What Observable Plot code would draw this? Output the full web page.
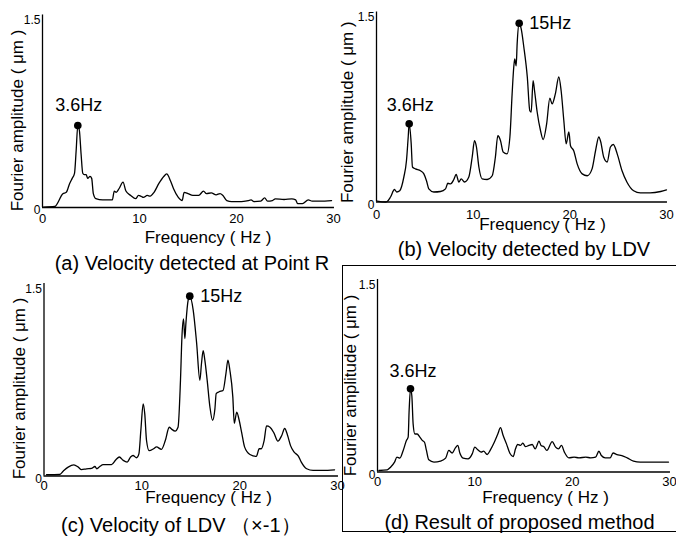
<!DOCTYPE html>
<html>
<head>
<meta charset="utf-8">
<script src="https://cdn.jsdelivr.net/npm/d3@7"></script>
<script src="https://cdn.jsdelivr.net/npm/@observablehq/plot@0.6"></script>
<style>
  html, body { margin: 0; padding: 0; background: #fff; }
  #wrap { position: relative; width: 676px; height: 539px; overflow: hidden; background: #fff; }
  #wrap svg { position: absolute; left: 0; top: 0; }
  #boxd { position: absolute; left: 342px; top: 265px; width: 345px; height: 267px;
          border: 1.3px solid #000; border-right: none; box-sizing: border-box; }
</style>
</head>
<body>
<div id="wrap"><div id="boxd"></div></div>
<script>
// ---------- data ----------
const xTicks = [0, 10, 20, 30];
const yTicks = [0, 1.5];
const yLabel = "Fourier amplitude ( μm )";
const xLabel = "Frequency ( Hz )";

// (a) Velocity detected at Point R
const aHz  = [0.1,1.26,2.1,2.45,2.8,3.06,3.3,3.47,3.64,3.8,3.98,4.15,4.3,4.5,4.66,4.9,5.07,5.24,5.5,6.2,7.2,7.4,7.6,7.9,8.3,8.6,9.1,9.6,9.9,10.2,10.4,10.8,11.1,11.5,12.0,12.5,12.8,13.2,13.5,14.0,14.4,14.6,15.0,15.5,16.1,16.6,16.9,17.4,17.9,18.3,18.6,19.0,19.5,20.5,21.2,21.5,21.8,22.5,22.9,23.2,23.7,24.0,24.9,25.7,26.1,26.3,26.8,27.4,27.8,28.6,29.8];
const aAmp = [0.003,0.008,0.108,0.12,0.19,0.23,0.27,0.45,0.647,0.61,0.42,0.27,0.26,0.26,0.23,0.245,0.23,0.11,0.07,0.06,0.06,0.13,0.12,0.15,0.2,0.13,0.095,0.07,0.095,0.087,0.08,0.095,0.09,0.12,0.19,0.245,0.265,0.21,0.15,0.08,0.055,0.12,0.11,0.095,0.095,0.13,0.11,0.115,0.10,0.11,0.095,0.055,0.047,0.047,0.055,0.06,0.047,0.05,0.076,0.05,0.055,0.068,0.063,0.068,0.06,0.03,0.03,0.06,0.05,0.05,0.055];
const aPeakHz = [3.64];
const aPeakAmp = [0.647];
const aPeakLabel = ["3.6Hz"];
const aCaption = "(a) Velocity detected at Point R";

// (b) Velocity detected by LDV
const bHz  = [0.07,0.93,1.1,1.45,1.86,2.1,2.4,2.83,3.1,3.28,3.38,3.59,3.72,4.03,4.55,4.9,5.17,5.41,5.93,6.62,7.14,7.38,7.66,8.0,8.24,8.52,8.76,9.1,9.55,9.9,10.14,10.34,10.59,10.93,11.45,11.97,12.3,12.55,12.83,13.1,13.5,13.8,14.03,14.2,14.3,14.45,14.55,14.76,14.97,15.24,15.6,15.86,16.0,16.2,16.35,16.62,16.97,17.24,17.6,17.93,18.17,18.5,18.86,19.1,19.38,19.62,19.9,20.07,20.4,20.76,21.28,21.8,22.3,22.66,23.0,23.2,23.5,23.86,24.2,24.5,24.9,25.4,25.9,26.6,27.3,28.3,29.4,30.0];
const bAmp = [0.007,0.0,0.004,0.04,0.1,0.08,0.09,0.2,0.33,0.52,0.626,0.465,0.28,0.265,0.25,0.225,0.17,0.105,0.08,0.084,0.105,0.15,0.145,0.18,0.22,0.16,0.185,0.16,0.2,0.36,0.49,0.44,0.28,0.185,0.18,0.21,0.36,0.53,0.49,0.4,0.385,0.52,0.865,1.08,1.145,1.09,1.265,1.43,1.385,1.24,1.0,0.73,0.72,0.97,0.89,0.72,0.57,0.5,0.625,0.83,0.785,0.865,1.0,0.89,0.65,0.465,0.56,0.45,0.41,0.305,0.225,0.21,0.265,0.41,0.52,0.48,0.36,0.32,0.44,0.46,0.385,0.25,0.16,0.09,0.073,0.073,0.084,0.097];
const bPeakHz = [3.38, 14.76];
const bPeakAmp = [0.626, 1.43];
const bPeakLabel = ["3.6Hz", "15Hz"];
const bCaption = "(b) Velocity detected by LDV";

// (c) Velocity of LDV (x-1)
const cHz  = [0.26,1.6,1.96,2.47,3.05,3.5,3.83,4.35,4.86,5.2,5.4,5.7,6.05,6.9,7.35,7.7,8.1,8.5,8.85,9.1,9.46,9.7,9.9,10.14,10.3,10.48,10.75,11.2,11.5,12.0,12.4,12.8,13.04,13.4,13.7,13.95,14.1,14.26,14.4,14.5,14.74,14.9,15.25,15.6,15.93,16.1,16.27,16.44,16.68,16.96,17.23,17.47,17.6,17.9,18.3,18.6,18.8,19.0,19.3,19.45,19.7,19.95,20.2,20.5,21.05,21.7,22.0,22.2,22.5,22.75,23.1,23.5,23.9,24.3,24.6,24.9,25.2,25.55,26.0,26.3,26.85,27.5,28.5,29.7];
const cAmp = [0.01,0.012,0.038,0.07,0.088,0.07,0.05,0.057,0.06,0.075,0.057,0.075,0.09,0.09,0.128,0.15,0.123,0.11,0.15,0.162,0.144,0.175,0.36,0.57,0.49,0.28,0.2,0.215,0.23,0.21,0.28,0.385,0.37,0.355,0.385,0.755,1.1,1.24,1.085,1.2,1.39,1.42,1.31,1.05,0.755,0.89,0.99,0.915,0.755,0.545,0.44,0.53,0.65,0.665,0.675,0.81,0.915,0.835,0.625,0.415,0.505,0.44,0.345,0.23,0.17,0.155,0.215,0.215,0.28,0.395,0.385,0.34,0.275,0.32,0.375,0.32,0.24,0.19,0.157,0.11,0.057,0.044,0.044,0.049];
const cPeakHz = [14.9];
const cPeakAmp = [1.42];
const cPeakLabel = ["15Hz"];
const cCaption = "(c) Velocity of LDV \uFF08×-1\uFF09";

// (d) Result of proposed method
const dHz  = [0.14,1.0,1.34,1.75,2.0,2.3,2.64,2.98,3.15,3.25,3.39,3.53,3.66,3.84,4.08,4.35,4.6,4.83,5.03,5.27,5.8,6.47,7.0,7.33,7.67,8.0,8.25,8.46,8.8,9.3,9.73,10.0,10.3,10.65,10.9,11.27,11.6,12.0,12.36,12.64,12.9,13.25,13.6,13.94,14.18,14.4,14.7,14.93,15.2,15.55,15.9,16.2,16.6,16.8,17.1,17.4,17.95,18.3,18.6,18.9,19.2,19.66,20.2,20.7,21.4,21.9,22.4,22.75,23.0,23.4,23.9,24.2,24.6,25.1,25.65,26.3,27.0,28.4,29.9];
const dAmp = [0.012,0.017,0.038,0.078,0.117,0.11,0.17,0.25,0.275,0.485,0.657,0.6,0.38,0.3,0.3,0.275,0.25,0.235,0.17,0.096,0.078,0.086,0.11,0.17,0.15,0.19,0.21,0.15,0.11,0.104,0.143,0.196,0.175,0.157,0.165,0.138,0.175,0.235,0.3,0.35,0.29,0.222,0.148,0.122,0.183,0.217,0.21,0.228,0.2,0.21,0.217,0.183,0.243,0.21,0.2,0.17,0.24,0.196,0.183,0.21,0.157,0.112,0.117,0.112,0.117,0.112,0.117,0.164,0.13,0.112,0.112,0.15,0.138,0.13,0.112,0.086,0.078,0.078,0.078];
const dPeakHz = [3.39];
const dPeakAmp = [0.657];
const dPeakLabel = ["3.6Hz"];
const dCaption = "(d) Result of proposed method";

// ---------- layout (pixels) ----------
const W = 676, H = 539;
const FONT = "'Liberation Sans', Arial, Helvetica, sans-serif";

const panels = [
  {hz: aHz, amp: aAmp, pHz: aPeakHz, pAmp: aPeakAmp, pLab: aPeakLabel, caption: aCaption,
   frame: {left: 42, right: 333, top: 17, bottom: 207}, xPad: 6,
   yLab: [-24.5, 8], xLab: [20, 30], cap: [4, 56],
   peakPos: [{dx: 1, dy: -20.5, anchor: "middle"}]},
  {hz: bHz, amp: bAmp, pHz: bPeakHz, pAmp: bPeakAmp, pLab: bPeakLabel, caption: bCaption,
   frame: {left: 376, right: 666, top: 14, bottom: 201.5}, xPad: 8,
   yLab: [-29, 4], xLab: [21, 22.5], cap: [2.5, 47.5],
   peakPos: [{dx: 1, dy: -19, anchor: "middle"}, {dx: 10, dy: 0, anchor: "start"}]},
  {hz: cHz, amp: cAmp, pHz: cPeakHz, pAmp: cPeakAmp, pLab: cPeakLabel, caption: cCaption,
   frame: {left: 43.5, right: 337, top: 285.5, bottom: 475.5}, xPad: 5,
   yLab: [-24.5, 7.5], xLab: [17.75, 21.5], cap: [-10, 50],
   peakPos: [{dx: 10.5, dy: 0, anchor: "start"}]},
  {hz: dHz, amp: dAmp, pHz: dPeakHz, pAmp: dPeakAmp, pLab: dPeakLabel, caption: dCaption,
   frame: {left: 377, right: 669, top: 281.5, bottom: 471.5}, xPad: 5,
   yLab: [-27, 8.5], xLab: [22, 25.5], cap: [-4, 50.5],
   peakPos: [{dx: 2.5, dy: -18, anchor: "middle"}]}
];

const wrap = document.getElementById("wrap");

for (const p of panels) {
  const rows = p.hz.map((h, i) => ({hz: h, amp: p.amp[i]}));
  const peaks = p.pHz.map((h, i) => ({hz: h, amp: p.pAmp[i], label: p.pLab[i]}));
  const f = p.frame;
  const peakTexts = peaks.map((pk, i) =>
    Plot.text([pk], {x: "hz", y: "amp", text: "label", dx: p.peakPos[i].dx, dy: p.peakPos[i].dy,
      textAnchor: p.peakPos[i].anchor, lineAnchor: "middle", fontSize: 18, fill: "black"}));

  const svg = Plot.plot({
    width: W, height: H,
    marginLeft: f.left, marginRight: W - f.right, marginTop: f.top, marginBottom: H - f.bottom,
    x: {domain: [0, 30]},
    y: {domain: [0, 1.5]},
    style: {background: "transparent", color: "black", fontFamily: FONT, overflow: "visible"},
    marks: [
      Plot.ruleX([0], {y1: 0, y2: 1.52, stroke: "black", strokeWidth: 1.3}),
      Plot.ruleY([0], {x1: 0, x2: 30.1, stroke: "black", strokeWidth: 1.3}),
      Plot.axisX({ticks: xTicks, tickSize: 0, tickPadding: p.xPad, fontSize: 13, label: null, tickFormat: d => String(d)}),
      Plot.axisY({ticks: yTicks, tickSize: 0, tickPadding: 2, fontSize: 12, dy: 3, label: null,
        tickFormat: d => d === 0 ? "0" : "1.5"}),
      Plot.line(rows, {x: "hz", y: "amp", curve: "monotone-x", stroke: "black", strokeWidth: 1.3}),
      Plot.dot(peaks, {x: "hz", y: "amp", r: 3.8, fill: "black", stroke: "none"}),
      ...peakTexts,
      Plot.text([yLabel], {text: d => d, frameAnchor: "left", textAnchor: "middle", lineAnchor: "middle",
        rotate: -90, dx: p.yLab[0], dy: p.yLab[1], fontSize: 17, fill: "black"}),
      Plot.text([xLabel], {text: d => d, frameAnchor: "bottom", textAnchor: "middle", lineAnchor: "middle",
        dx: p.xLab[0], dy: p.xLab[1], fontSize: 17, fill: "black"}),
      Plot.text([p.caption], {text: d => d, frameAnchor: "bottom", textAnchor: "middle", lineAnchor: "middle",
        dx: p.cap[0], dy: p.cap[1], fontSize: 20, fill: "black"})
    ]
  });
  svg.style.position = "absolute";
  svg.style.left = "0px";
  svg.style.top = "0px";
  svg.style.maxWidth = "none";
  wrap.appendChild(svg);
}
</script>
</body>
</html>
